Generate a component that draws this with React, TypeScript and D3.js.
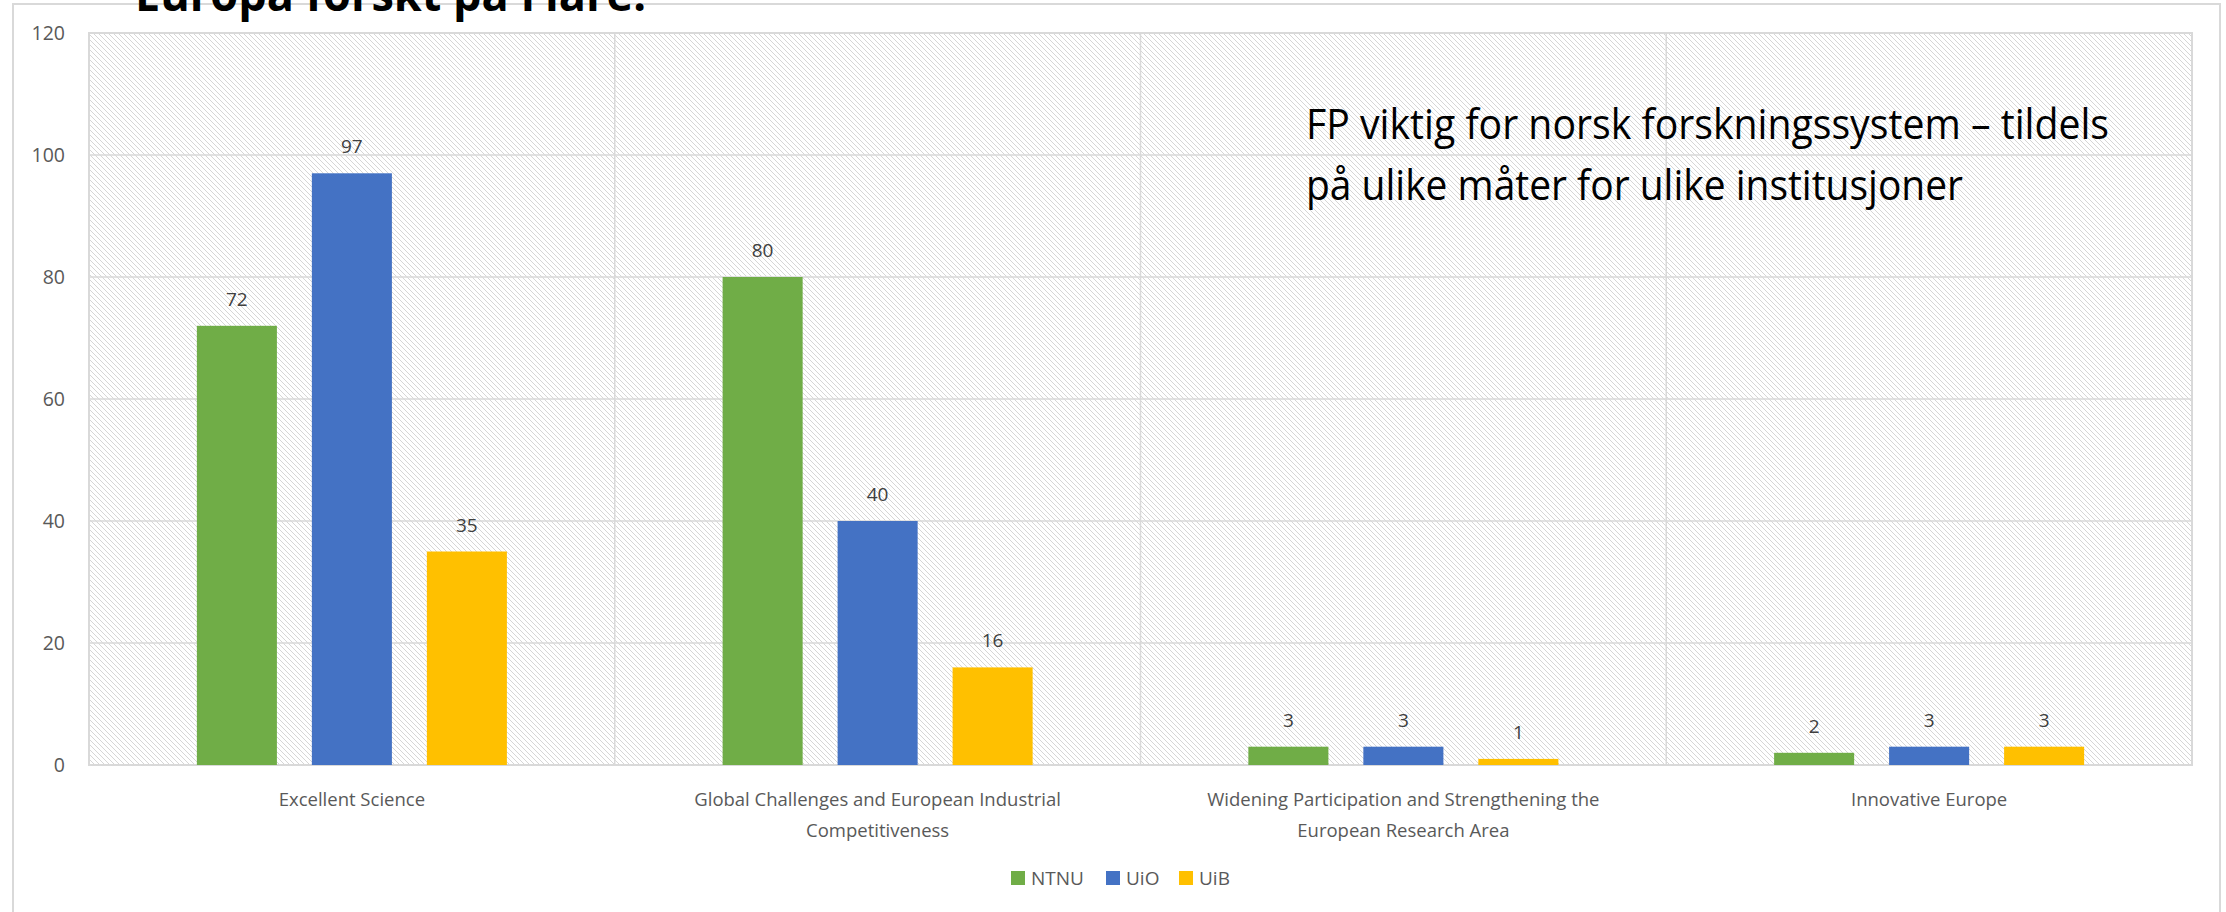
import React, { useRef, useEffect } from "react";
import { select, scaleBand, scaleLinear, axisLeft } from "d3";

// data
const categories = [
  "Excellent Science",
  "Global Challenges and European Industrial Competitiveness",
  "Widening Participation and Strengthening the European Research Area",
  "Innovative Europe",
];
const categoryLines = [
  ["Excellent Science"],
  ["Global Challenges and European Industrial", "Competitiveness"],
  ["Widening Participation and Strengthening the", "European Research Area"],
  ["Innovative Europe"],
];
const seriesNames = ["NTNU", "UiO", "UiB"];
const ntnu = [72, 80, 3, 2];
const uio = [97, 40, 3, 3];
const uib = [35, 16, 1, 3];
const yTicks = [0, 20, 40, 60, 80, 100, 120];
const colors = ["#70AD47", "#4472C4", "#FFC000"];
const title = "Europa forskt på Flare.";
const noteLines = [
  "FP viktig for norsk forskningssystem – tildels",
  "på ulike måter for ulike institusjoner",
];

const W = 2226;
const H = 912;
const plot = { left: 89, right: 2192, top: 33, bottom: 765 };
const font = "'Open Sans', 'Noto Sans', sans-serif";

const App = () => {
  const axisRef = useRef<SVGGElement>(null);

  const values = [ntnu, uio, uib];

  //scales
  const x0 = scaleBand<string>()
    .domain(categories)
    .range([plot.left, plot.right])
    .padding(0);
  const x1 = scaleBand<string>()
    .domain(seriesNames)
    .range([0, x0.bandwidth()])
    .paddingInner(0.304)
    .paddingOuter(0.938);
  const y = scaleLinear().domain([0, 120]).range([plot.bottom, plot.top]);

  //y axis
  useEffect(() => {
    const g = select(axisRef.current);
    const yAxis = axisLeft(y).tickValues(yTicks).tickSize(0).tickPadding(24);
    g.call(yAxis as any);
    g.select(".domain").remove();
    g.selectAll("text")
      .attr("font-size", 19.5)
      .attr("font-family", font)
      .attr("fill", "#595959");
  }, []);

  return (
    <div style={{ position: "absolute", left: 0, top: 0 }}>
      <svg width={W} height={H} style={{ display: "block" }}>
        <defs>
          <pattern id="hatch" patternUnits="userSpaceOnUse" width={5} height={5}>
            <rect width={5} height={5} fill="#ffffff" />
            <path d="M-1,-1 L6,6 M-3,2 L3,8 M2,-3 L8,3" stroke="#d6d6d6" strokeWidth={1} />
          </pattern>
        </defs>
        <rect x={0} y={0} width={W} height={H} fill="#ffffff" />
        {/* chart frame */}
        <rect x={13} y={4} width={2207} height={H + 20} fill="#ffffff" stroke="#d9d9d9" strokeWidth={2} />

        {/* plot area */}
        <rect
          x={plot.left}
          y={plot.top}
          width={plot.right - plot.left}
          height={plot.bottom - plot.top}
          fill="url(#hatch)"
          stroke="#d9d9d9"
          strokeWidth={2}
        />
        {yTicks.map((t) => (
          <line key={t} x1={plot.left} x2={plot.right} y1={y(t)} y2={y(t)} stroke="#d9d9d9" strokeWidth={1.5} />
        ))}
        {categories.slice(1).map((c) => (
          <line key={c} x1={x0(c)} x2={x0(c)} y1={plot.top} y2={plot.bottom} stroke="#d9d9d9" strokeWidth={1.5} />
        ))}

        <g ref={axisRef} transform={`translate(${plot.left},0)`} />

        {/* bars */}
        {categories.map((c, ci) => (
          <g key={c} transform={`translate(${x0(c)},0)`}>
            {seriesNames.map((s, si) => {
              const v = values[si][ci];
              const bx = x1(s) as number;
              return (
                <g key={s}>
                  <rect x={bx} y={y(v)} width={x1.bandwidth()} height={y(0) - y(v)} fill={colors[si]} />
                  <text
                    x={bx + x1.bandwidth() / 2}
                    y={y(v) - 20}
                    textAnchor="middle"
                    fontSize={19}
                    fontFamily={font}
                    fill="#404040"
                  >
                    {v}
                  </text>
                </g>
              );
            })}
          </g>
        ))}

        {/* category labels */}
        {categories.map((c, ci) => (
          <text
            key={c}
            x={(x0(c) as number) + x0.bandwidth() / 2}
            y={806}
            textAnchor="middle"
            fontSize={18.5}
            fontFamily={font}
            fill="#595959"
          >
            {categoryLines[ci].map((ln, li) => (
              <tspan key={li} x={(x0(c) as number) + x0.bandwidth() / 2} dy={li === 0 ? 0 : 31}>
                {ln}
              </tspan>
            ))}
          </text>
        ))}

        {/* legend */}
        {seriesNames.map((s, i) => {
          const lx = [1011, 1106, 1179][i];
          return (
            <g key={s}>
              <rect x={lx} y={871} width={14} height={14} fill={colors[i]} />
              <text x={lx + 20} y={885} fontSize={19} fontFamily={font} fill="#595959">
                {s}
              </text>
            </g>
          );
        })}

        {/* annotation */}
        <text x={1306} y={139} fontSize={42} fontFamily={font} fill="#000" textLength={803} lengthAdjust="spacingAndGlyphs">
          {noteLines[0]}
        </text>
        <text x={1306} y={200} fontSize={42} fontFamily={font} fill="#000" textLength={657} lengthAdjust="spacingAndGlyphs">
          {noteLines[1]}
        </text>

        {/* title, mostly cut off above the frame */}
        <text
          x={135}
          y={11}
          fontSize={46}
          fontWeight="bold"
          fontFamily={font}
          fill="#000"
          textLength={511}
          lengthAdjust="spacingAndGlyphs"
        >
          {title}
        </text>
      </svg>
    </div>
  );
};

export default App;
